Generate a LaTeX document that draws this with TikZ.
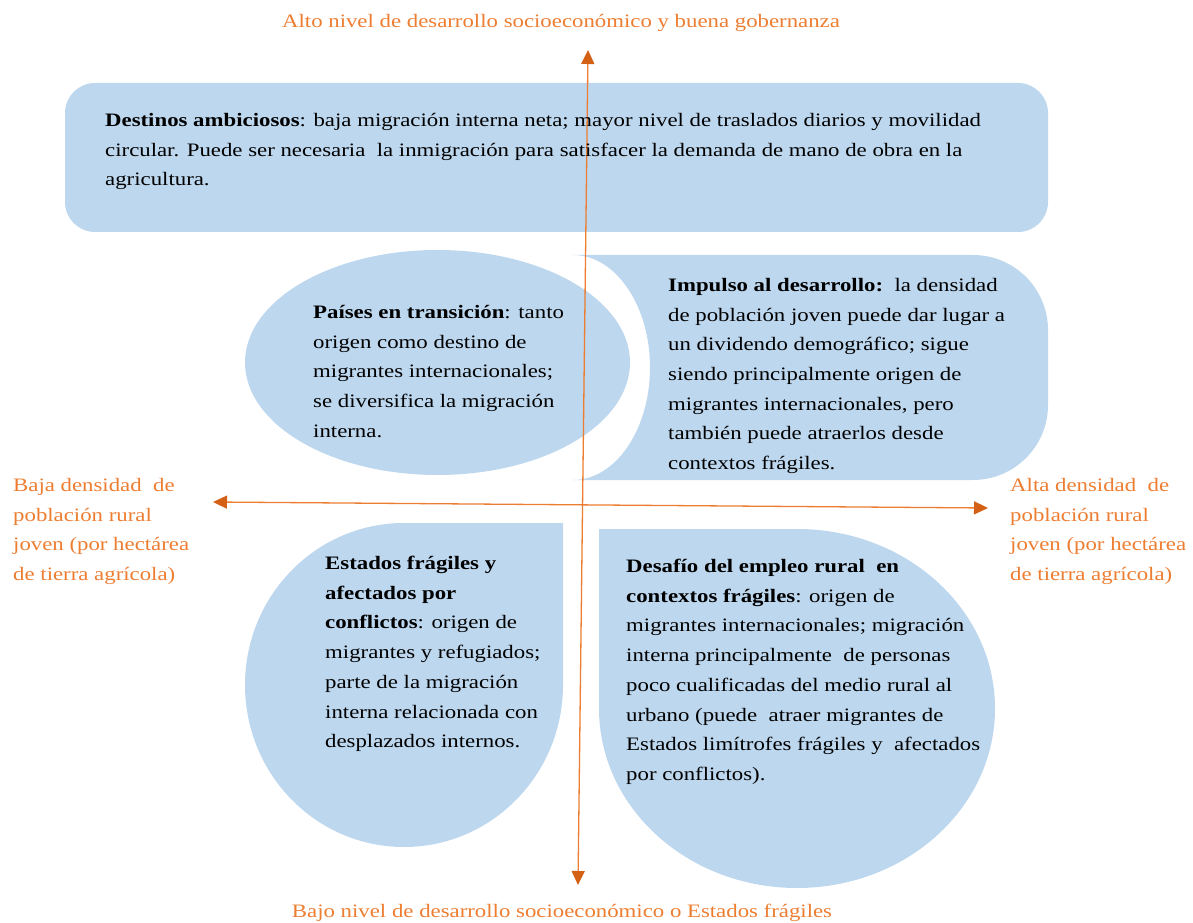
\documentclass[tikz,border=0pt]{standalone}
\usepackage{fontspec}
\setmainfont{Liberation Serif}[FakeStretch=1.2]
\usetikzlibrary{arrows.meta,positioning}

\definecolor{boxblue}{RGB}{189,215,238}
\definecolor{axisorange}{RGB}{237,125,49}
\definecolor{tiporange}{RGB}{212,96,22}

\begin{document}
\begin{tikzpicture}[x=1pt,y=1pt,>={Triangle[length=14pt,width=13pt,color=tiporange]},
		blob/.style={fill=boxblue},
		bodytext/.style={anchor=north west,inner sep=0pt,align=left,font=\fontsize{19}{29.7}\selectfont},
		axislabel/.style={inner sep=0pt,align=left,text=axisorange,font=\fontsize{19}{29.7}\selectfont},
		axisline/.style={draw=axisorange,line width=1.3pt,<->}]
	\useasboundingbox (0,0) rectangle (1193,922);
	% quadrant shapes
	\fill[blob,rounded corners=30pt] (65,690) rectangle (1048,839);
	\fill[blob] (437.5,559.5) ellipse[x radius=192.5,y radius=112.5];
	\fill[blob] (573,667) -- (973,667) arc[start angle=90,end angle=0,radius=75]
		-- (1048,517) arc[start angle=0,end angle=-90,radius=75]
		-- (573,442) arc[start angle=-90,end angle=90,x radius=77,y radius=112.5] -- cycle;
	\fill[blob] (404,399) -- (563,399) -- (563,237)
		arc[start angle=0,end angle=-270,x radius=159,y radius=162] -- cycle;
	\fill[blob] (797,393) arc[start angle=90,end angle=-180,x radius=198,y radius=179.5]
		-- (599,393) -- cycle;
	% axes
	\coordinate (ax_s) at (578,37);
	\coordinate (ax_n) at (588,872);
	\coordinate (ax_w) at (213,420);
	\coordinate (ax_e) at (988,414);
	\draw[axisline] (ax_s) -- (ax_n);
	\draw[axisline] (ax_w) -- (ax_e);
	% texts
	\node[bodytext] (d_amb) at (105,809) {\textbf{Destinos ambiciosos}: baja migración interna neta; mayor nivel de traslados diarios y movilidad\\circular. Puede ser necesaria\ \ la inmigración para satisfacer la demanda de mano de obra en la\\agricultura.};
	\node[bodytext] (p_tra) at (313,617) {\textbf{Países en transición}: tanto\\origen como destino de\\migrantes internacionales;\\se diversifica la migración\\interna.};
	\node[bodytext] (i_des) at (668,644) {\textbf{Impulso al desarrollo:}\ \ la densidad\\de población joven puede dar lugar a\\un dividendo demográfico; sigue\\siendo principalmente origen de\\migrantes internacionales, pero\\también puede atraerlos desde\\contextos frágiles.};
	\node[bodytext] (e_fra) at (325,366) {\textbf{Estados frágiles y}\\\textbf{afectados por}\\\textbf{conflictos}: origen de\\migrantes y refugiados;\\parte de la migración\\interna relacionada con\\desplazados internos.};
	\node[bodytext] (d_emp) at (626,363) {\textbf{Desafío del empleo rural\ \ en}\\\textbf{contextos frágiles}: origen de\\migrantes internacionales; migración\\interna principalmente\ \ de personas\\poco cualificadas del medio rural al\\urbano (puede\ \ atraer migrantes de\\Estados limítrofes frágiles y\ \ afectados\\por conflictos).};
	\node[axislabel,anchor=base] (lbl_n) at (561,894) {Alto nivel de desarrollo socioeconómico y buena gobernanza};
	\node[axislabel,anchor=base] (lbl_s) at (562,5) {Bajo nivel de desarrollo socioeconómico o Estados frágiles};
	\node[axislabel,anchor=north west] (lbl_w) at (13,444) {Baja densidad\ \ de\\población rural\\joven (por hectárea\\de tierra agrícola)};
	\node[axislabel,anchor=north west] (lbl_e) at (1010,444) {Alta densidad\ \ de\\población rural\\joven (por hectárea\\de tierra agrícola)};
\end{tikzpicture}
\end{document}
